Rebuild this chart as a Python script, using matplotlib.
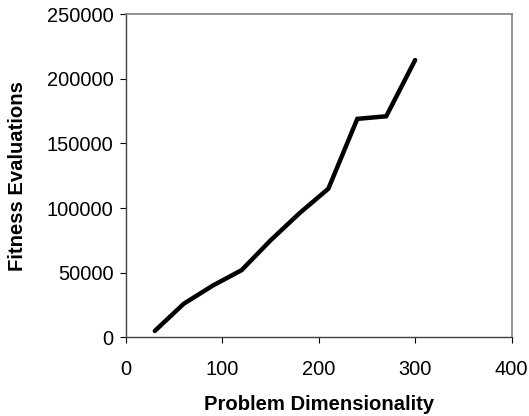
import numpy as np
import matplotlib
matplotlib.use('Agg')
import matplotlib.pyplot as plt

plt.rcParams['font.family'] = ['Liberation Sans', 'DejaVu Sans']

# data
dimensions = [30, 60, 90, 120, 150, 180, 210, 240, 270, 300]
evaluations = [5000, 26000, 40000, 52000, 75000, 96000, 115000, 169000, 171000, 214500]
x_ticks = [0, 100, 200, 300, 400]
y_ticks = [0, 50000, 100000, 150000, 200000, 250000]

fig = plt.figure(figsize=(5.29, 4.16), dpi=100)
ax = fig.add_axes([0.238, 0.189, 0.729, 0.777])
ax.plot(dimensions, evaluations, '-k', linewidth=3.2, solid_capstyle='round', solid_joinstyle='miter')
ax.set_xlim(0, 400)
ax.set_ylim(0, 250000)
ax.set_xticks(x_ticks)
ax.set_yticks(y_ticks)
ax.set_xticklabels([str(t) for t in x_ticks], fontsize=14.4)
ax.set_yticklabels([str(t) for t in y_ticks], fontsize=14.4)
ax.tick_params(direction='out', length=4, width=0.8, colors='black')
ax.tick_params(axis='x', pad=12)
ax.tick_params(axis='y', pad=5)
for side in ['top', 'right']:
    ax.spines[side].set_color('#808080')
    ax.spines[side].set_linewidth(1.2)
for side in ['left', 'bottom']:
    ax.spines[side].set_color('#404040')
    ax.spines[side].set_linewidth(1.0)
ax.set_xlabel('Problem Dimensionality', fontsize=14.6, fontweight='bold', labelpad=12)
ax.set_ylabel('Fitness Evaluations', fontsize=14.6, fontweight='bold', labelpad=14)
fig.savefig('out.png', dpi=100)
